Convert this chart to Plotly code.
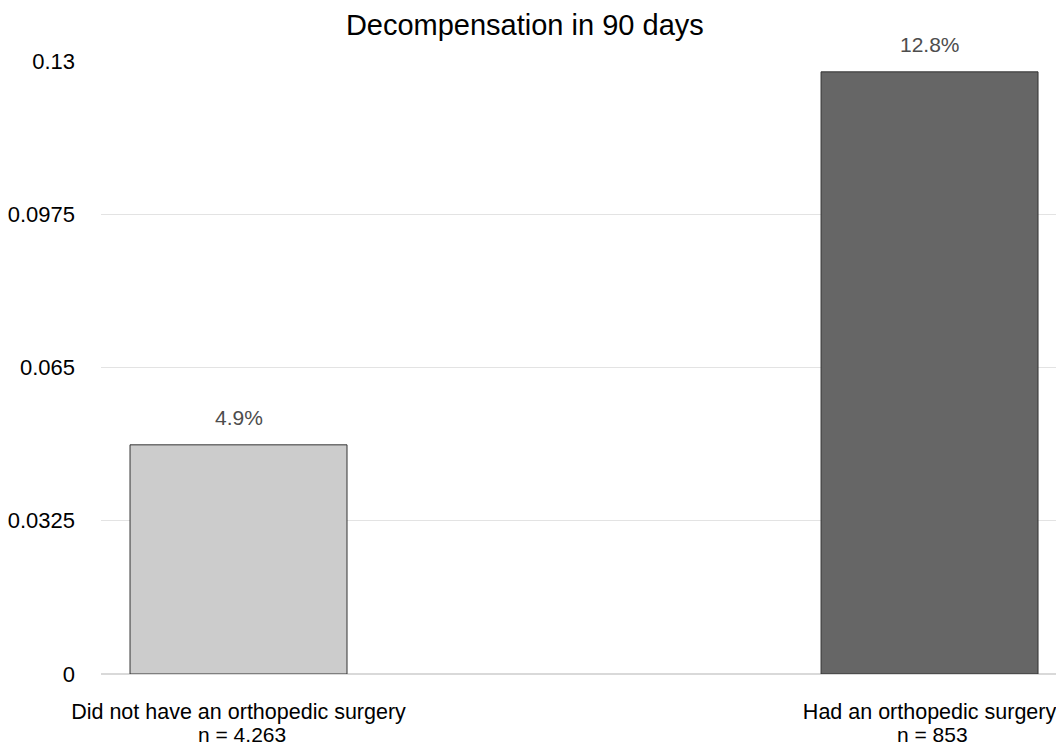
import plotly.graph_objects as go

categories = ["Did not have an orthopedic surgery", "Had an orthopedic surgery"]
n_labels = ["n = 4.263", "n = 853"]
values = [0.0486, 0.1277]
value_labels = ["4.9%", "12.8%"]
bar_colors = ["#cccccc", "#666666"]
y_ticks = [0, 0.0325, 0.065, 0.0975, 0.13]
y_ticktext = ["0", "0.0325", "0.065", "0.0975", "0.13"]

FONT = "Liberation Sans, Arial, Helvetica, sans-serif"

fig = go.Figure()
fig.add_trace(go.Bar(
    x=categories, y=values, width=0.314,
    marker=dict(color=bar_colors, line=dict(color="#333333", width=1)),
    hoverinfo="skip",
))

for c, v, t in zip(categories, values, value_labels):
    fig.add_annotation(x=c, y=v, text=t, showarrow=False, yanchor="middle",
                       yshift=27, font=dict(family=FONT, size=21, color="#4d4d4d"))

for c, t in zip(categories, n_labels):
    fig.add_annotation(x=c, y=0, yref="paper", text=t, showarrow=False,
                       yanchor="middle", yshift=-60, xshift=3,
                       font=dict(family=FONT, size=21, color="#000000"))

fig.update_layout(
    width=1056, height=744,
    margin=dict(l=101, r=0, t=61, b=70, autoexpand=False),
    paper_bgcolor="white", plot_bgcolor="white",
    showlegend=False,
    font=dict(family=FONT, color="#000000"),
    title=dict(text="Decompensation in 90 days", x=0.497, xref="container",
               y=(744 - 25) / 744, yref="container", yanchor="middle",
               xanchor="center", font=dict(family=FONT, size=29, color="#000000")),
)
fig.update_xaxes(range=[-0.199, 1.183], showgrid=False, ticks="",
                 tickfont=dict(family=FONT, size=21.5, color="#000000"),
                 ticklabelstandoff=22, showline=False, zeroline=False,
                 automargin=False)
fig.update_yaxes(range=[0, 0.13], tickvals=y_ticks, ticktext=y_ticktext,
                 showgrid=True, gridcolor="#e3e3e3", gridwidth=1,
                 zeroline=True, zerolinecolor="#d9d9d9", zerolinewidth=2,
                 ticks="", ticklabelstandoff=25, showline=False,
                 tickfont=dict(family=FONT, size=22, color="#000000"),
                 automargin=False)

fig.write_html("out.html", config={"displayModeBar": False},
               post_script="document.body.style.margin='0';")
